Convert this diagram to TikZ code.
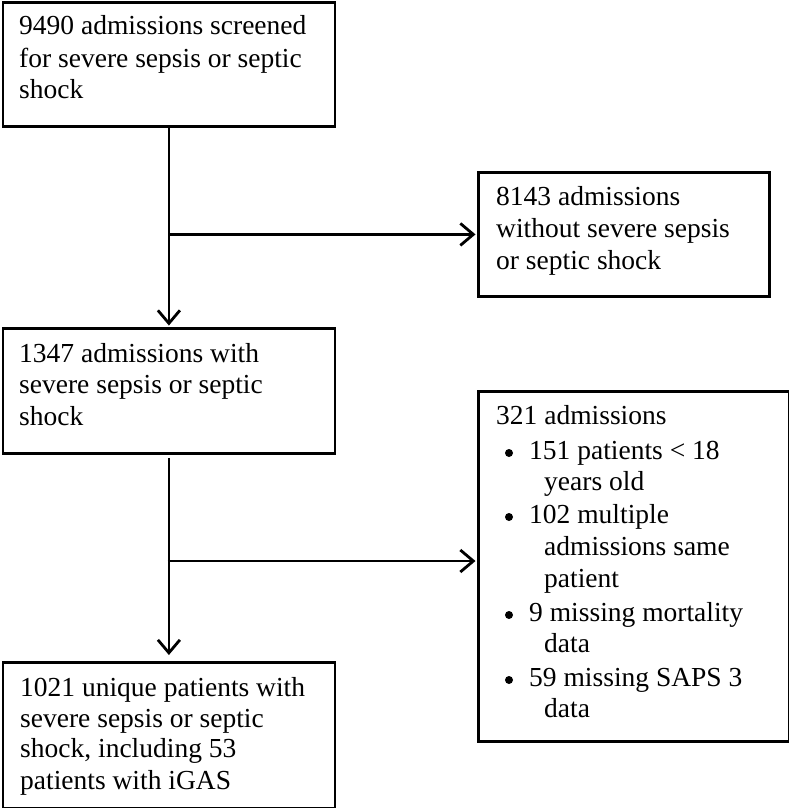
\documentclass[tikz,border=0pt]{standalone}
\usepackage{fontspec}
\setmainfont{Liberation Serif}
\usetikzlibrary{arrows.meta}
\begin{document}
\begin{tikzpicture}[x=1pt,y=-1pt,
  box/.style={draw, line width=2.8pt, rectangle, inner sep=0pt, anchor=north west},
  txt/.style={anchor=base west, inner sep=0pt, font=\fontsize{27.5}{31.5}\selectfont},
  bul/.style={fill, circle, inner sep=0pt, minimum size=8pt},
  conn/.style={line width=2.8pt},
  arr/.style={conn, -{Straight Barb[length=13pt,width=22pt,line width=2.8pt]}}]
\useasboundingbox (0,0) rectangle (789,808);

% boxes
\node[box, minimum width=332pt, minimum height=123.5pt] (b1) at (1.5,1.5) {};
\node[box, minimum width=291pt, minimum height=124pt] (b2) at (477,171) {};
\node[box, minimum width=332pt, minimum height=125pt] (b3) at (1.5,327) {};
\node[box, minimum width=310.5pt, minimum height=350pt] (b4) at (477,390) {};
\node[box, minimum width=332pt, minimum height=145.5pt] (b5) at (1.5,661) {};

% texts box 1
\node[txt] (t1a) at (19,35) {9490 admissions screened};
\node[txt] (t1b) at (19,67) {for severe sepsis or septic};
\node[txt] (t1c) at (19,98.5) {shock};
% box 2
\node[txt] (t2a) at (496,205) {8143 admissions};
\node[txt] (t2b) at (496,237) {without severe sepsis};
\node[txt] (t2c) at (496,269) {or septic shock};
% box 3
\node[txt] (t3a) at (19,362) {1347 admissions with};
\node[txt] (t3b) at (19,393.5) {severe sepsis or septic};
\node[txt] (t3c) at (19,425) {shock};
% box 4
\node[txt] (t4a) at (496,424) {321 admissions};
\node[bul] (u1) at (509,453) {};
\node[txt] (t4b) at (529,459) {151 patients < 18};
\node[txt] (t4c) at (544,490) {years old};
\node[bul] (u2) at (509,517) {};
\node[txt] (t4d) at (529,523) {102 multiple};
\node[txt] (t4e) at (544,555) {admissions same};
\node[txt] (t4f) at (544,587) {patient};
\node[bul] (u3) at (509,615) {};
\node[txt] (t4g) at (529,621) {9 missing mortality};
\node[txt] (t4h) at (544,652) {data};
\node[bul] (u4) at (509,680) {};
\node[txt] (t4i) at (529,686) {59 missing SAPS 3};
\node[txt] (t4j) at (544,717) {data};
% box 5
\node[txt] (t5a) at (20,696) {1021 unique patients with};
\node[txt] (t5b) at (20,727) {severe sepsis or septic};
\node[txt] (t5c) at (20,757.5) {shock, including 53};
\node[txt] (t5d) at (20,789) {patients with iGAS};

% connectors
\draw[arr, shorten >=1.5pt] (b1.south) -- (b3.north);
\coordinate (j1) at (b1.south |- b2.west);
\draw[arr, shorten >=1.5pt] (j1) -- (b2.west);
\draw[arr, shorten <=3pt, shorten >=6pt] (b3.south) -- (b5.north);
\coordinate (j2) at (167.5,561);
\coordinate (e2) at (b4.west |- j2);
\draw[arr, shorten >=1.5pt] (j2) -- (e2);
\end{tikzpicture}
\end{document}
